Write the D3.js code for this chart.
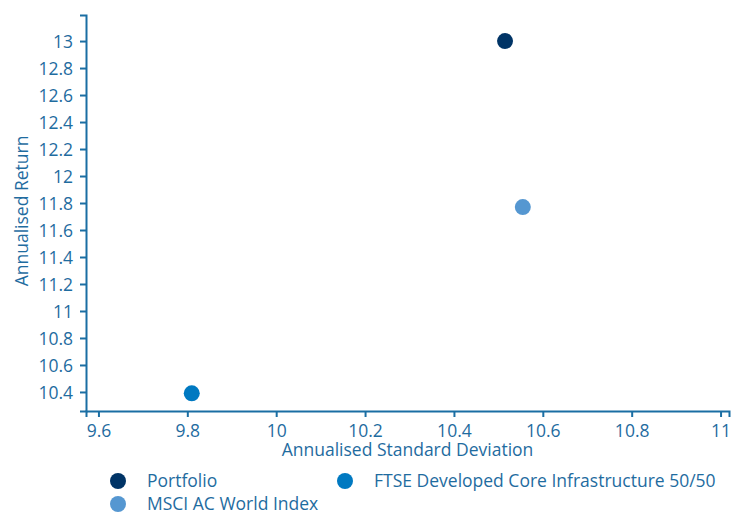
<!DOCTYPE html>
<html><head><meta charset="utf-8">
<script src="https://cdn.jsdelivr.net/npm/d3@7"></script>
<style>
body{margin:0;background:#fff;}
text{font-family:"Open Sans","Noto Sans",sans-serif;}
</style></head>
<body><svg id="c" width="743" height="513"></svg>
<script>
const seriesNames = ["Portfolio", "MSCI AC World Index", "FTSE Developed Core Infrastructure 50/50"];
const stdDev = [10.515, 10.555, 9.81];
const annReturn = [13.0, 11.77, 10.39];
const colors = ["#003466", "#5597d1", "#0079c1"];
const xTicks = [9.6, 9.8, 10, 10.2, 10.4, 10.6, 10.8, 11];
const yTicks = [10.4, 10.6, 10.8, 11, 11.2, 11.4, 11.6, 11.8, 12, 12.2, 12.4, 12.6, 12.8, 13];

(function () {
const axisColor = "#1a6ea3";
const textColor = "#1f6c9f";
const fs = "17.5px";
const svg = d3.select("#c");
const mLeft = 86, mRight = 729, mTop = 15, mBottom = 411;

const x = d3.scaleLinear().domain([9.572, 11.019]).range([mLeft, mRight]);
const y = d3.scaleLinear().domain([10.259, 13.193]).range([mBottom, mTop]);

const gx = svg.append("g").attr("transform", `translate(0,${mBottom})`)
  .call(d3.axisBottom(x).tickValues(xTicks).tickFormat(d3.format("")).tickSizeOuter(0).tickSize(6));
const gy = svg.append("g").attr("transform", `translate(${mLeft},0)`)
  .call(d3.axisLeft(y).tickValues(yTicks).tickFormat(d3.format("")).tickSizeOuter(0).tickSize(6));
[gx, gy].forEach(g => {
  g.select(".domain").attr("stroke", axisColor).attr("stroke-width", 2);
  g.selectAll(".tick line").attr("stroke", axisColor).attr("stroke-width", 2);
  g.selectAll(".tick text").attr("fill", textColor).style("font-size", fs);
});
gx.selectAll(".tick text").attr("y", 26).attr("dy", 0);
gy.selectAll(".tick text").attr("x", -13).attr("dy", "0.35em");

svg.append("text").attr("x", (mLeft + mRight) / 2).attr("y", 456).attr("text-anchor", "middle")
  .attr("fill", textColor).style("font-size", fs).text("Annualised Standard Deviation");
svg.append("text").attr("transform", `translate(27.5,211) rotate(-90)`)
  .attr("text-anchor", "middle").attr("fill", textColor).style("font-size", fs).text("Annualised Return");

svg.append("g").selectAll("circle").data(seriesNames).join("circle")
  .attr("cx", (d, i) => x(stdDev[i])).attr("cy", (d, i) => y(annReturn[i]))
  .attr("r", 8).attr("fill", (d, i) => colors[i]);

const legendPos = [[118, 481], [118, 504], [345, 481]];
const lg = svg.append("g");
seriesNames.forEach((n, i) => {
  const [lx, ly] = legendPos[i];
  lg.append("circle").attr("cx", lx).attr("cy", ly).attr("r", 8).attr("fill", colors[i]);
  lg.append("text").attr("x", lx + 29).attr("y", ly).attr("dy", "0.35em")
    .attr("fill", textColor).style("font-size", fs).text(n);
});
})();
</script></body></html>
